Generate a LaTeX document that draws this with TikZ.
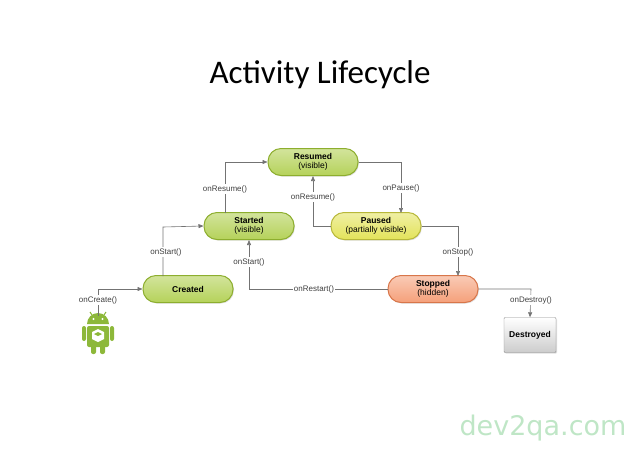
\documentclass[tikz,border=0pt]{standalone}
\usepackage{fontspec}
\setmainfont{Liberation Sans}
\newfontfamily\titlefont{Carlito}
\newfontfamily\wmfont{DejaVu Sans}
\usetikzlibrary{arrows.meta,shadows}
\definecolor{gfill}{HTML}{B5D25A}
\definecolor{gedge}{HTML}{8DAE2E}
\definecolor{yfill}{HTML}{E3E35A}
\definecolor{yedge}{HTML}{B8B83A}
\definecolor{ofill}{HTML}{F5A07A}
\definecolor{oedge}{HTML}{D8764A}
\definecolor{andr}{HTML}{8DB83A}
\definecolor{wm}{HTML}{BFE6C6}
\tikzset{
  state/.style={rounded corners=13pt,minimum width=90pt,minimum height=27pt,align=center,
    font=\fontsize{8.5}{9.5}\selectfont,draw=gedge,line width=1pt,top color=gfill!60!white,bottom color=gfill,
    drop shadow={opacity=0.25,shadow xshift=1pt,shadow yshift=-1pt}},
  lbl/.style={font=\fontsize{8}{9}\selectfont,text=black!75,fill=white,inner sep=1pt},
  conn/.style={draw=black!55,line width=0.6pt,-{Triangle[length=5pt,width=4pt]}}
}
\begin{document}
\begin{tikzpicture}[x=1pt,y=-1pt]
\useasboundingbox (0,0) rectangle (638,451);
\node[font=\titlefont\fontsize{33}{36}\selectfont] (title) at (320,75) {Activity Lifecycle};
\node[state] (res) at (313,162) {\textbf{Resumed}\\(visible)};
\node[state] (sta) at (249,226) {\textbf{Started}\\(visible)};
\node[state,draw=yedge,top color=yfill!55!white,bottom color=yfill] (pau) at (376,226) {\textbf{Paused}\\(partially visible)};
\node[state] (cre) at (188,289) {\textbf{Created}};
\node[state,draw=oedge,top color=ofill!55!white,bottom color=ofill] (sto) at (433,289) {\textbf{Stopped}\\(hidden)};
\node[draw=black!45,rounded corners=1pt,minimum width=52pt,minimum height=35pt,
  top color=white,bottom color=black!20,font=\fontsize{8.5}{9.5}\selectfont,
  drop shadow={opacity=0.25,shadow xshift=1pt,shadow yshift=-1pt}] (des) at (530,335) {\textbf{Destroyed}};
% android
\node[minimum width=34pt,minimum height=38pt,inner sep=0pt] (andr) at (98,335) {};
\begin{scope}[fill=andr]
\fill (87,324) arc[start angle=180,end angle=360,radius=11] -- cycle;
\draw[andr,line width=1pt] (92,315) -- (90,312) (104,315) -- (106,312);
\fill[white] (93.5,319) circle (1.2) (102.5,319) circle (1.2);
\fill[rounded corners=2pt] (87,326) rectangle (109,347);
\fill[rounded corners=2pt] (82,326) rectangle (86,341);
\fill[rounded corners=2pt] (110,326) rectangle (114,341);
\fill[rounded corners=2pt] (91,344) rectangle (96,354);
\fill[rounded corners=2pt] (100,344) rectangle (105,354);
\fill[white] (98,329) -- (104,332) -- (104,339) -- (98,342) -- (92,339) -- (92,332) -- cycle;
\fill (98,332) -- (102,334) -- (98,336) -- (94,334) -- cycle;
\end{scope}
% connectors
\draw[conn] (andr.north) -- (98,289) -- (cre.west);
\node[lbl] (l1) at (98,300) {onCreate()};
\draw[conn] (163,276) -- (163,227) -- (sta.west);
\node[lbl] (l2) at (166,252) {onStart()};
\draw[conn] (225,213) -- (225,162) -- (res.west);
\node[lbl] (l3) at (225,189) {onResume()};
\draw[conn] (res.east) -- (401,162) -- (401,213);
\node[lbl] (l4) at (401,188) {onPause()};
\draw[conn] (pau.west) -- (313,226) -- (res.south);
\node[lbl] (l5) at (313,197) {onResume()};
\draw[conn] (pau.east) -- (458,226) -- (458,276);
\node[lbl] (l6) at (458,252) {onStop()};
\draw[conn] (sto.west) -- (249,289) -- (sta.south);
\node[lbl] (l7) at (314,289) {onRestart()};
\node[lbl] (l8) at (249,262) {onStart()};
\draw[conn] (sto.east) -- (531,289) -- (des.north);
\node[lbl] (l9) at (531,300) {onDestroy()};
\node[font=\wmfont\fontsize{27}{30}\selectfont,text=wm] (wm) at (543,428) {dev2qa.com};
\end{tikzpicture}
\end{document}
